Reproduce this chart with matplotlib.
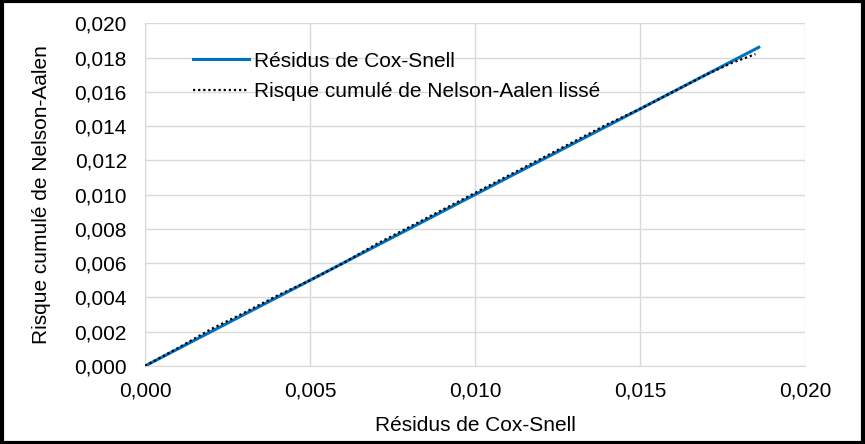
import matplotlib
matplotlib.use("Agg")
import matplotlib.pyplot as plt
from matplotlib.ticker import FuncFormatter, MultipleLocator
from matplotlib.patches import Rectangle

plt.rcParams['font.family'] = ['Liberation Sans', 'DejaVu Sans']

# Data
cox_snell_x = [0.0, 0.0186]
cox_snell_y = [0.0, 0.0186]
na_x = [0.0, 0.001, 0.002, 0.003, 0.004, 0.005, 0.006, 0.007, 0.008, 0.009,
        0.010, 0.011, 0.012, 0.013, 0.014, 0.015, 0.016, 0.017, 0.0178, 0.0185]
na_y = [0.0, 0.00105, 0.00215, 0.0031, 0.0041, 0.0050, 0.0060, 0.0071, 0.0081, 0.0091,
        0.0101, 0.0111, 0.0121, 0.0131, 0.0141, 0.0150, 0.0160, 0.0170, 0.0177, 0.0182]
series_labels = ["Résidus de Cox-Snell", "Risque cumulé de Nelson-Aalen lissé"]

FS = 15
fig = plt.figure(figsize=(8.65, 4.44), dpi=100)
ax = fig.add_axes([0.1676, 0.1757, 0.9306 - 0.1676, 0.9475 - 0.1757])

ax.plot(cox_snell_x, cox_snell_y, color='#0070c0', lw=2.2, label=series_labels[0], zorder=3)
ax.plot(na_x, na_y, color='black', lw=1.6, linestyle=(0, (1, 1.3)), label=series_labels[1], zorder=4)

ax.set_xlim(0, 0.020)
ax.set_ylim(0, 0.020)
ax.xaxis.set_major_locator(MultipleLocator(0.005))
ax.yaxis.set_major_locator(MultipleLocator(0.002))
fmt = FuncFormatter(lambda v, p: f"{v:.3f}".replace('.', ','))
ax.xaxis.set_major_formatter(fmt)
ax.yaxis.set_major_formatter(fmt)
ax.grid(True, color='#d9d9d9', lw=1)
ax.set_axisbelow(True)
for s in ['top', 'right']:
    ax.spines[s].set_visible(False)
for s in ['left', 'bottom']:
    ax.spines[s].set_color('#d9d9d9')
ax.tick_params(length=0, labelsize=FS)
ax.tick_params(axis='y', pad=13)
ax.tick_params(axis='x', pad=11)
ax.set_xlabel(series_labels[0], fontsize=FS, labelpad=11)
ax.set_ylabel("Risque cumulé de Nelson-Aalen", fontsize=FS, labelpad=17)

ax.legend(loc='upper left', bbox_to_anchor=(0.05, 0.96), frameon=False, fontsize=FS,
          handlelength=2.7, handletextpad=0.25, labelspacing=0.55, borderpad=0.2)

fig.patches.append(Rectangle((0.002, 0.003), 0.996, 0.994, transform=fig.transFigure,
                             fill=False, edgecolor='black', lw=3))
fig.savefig("out.png", dpi=100)
